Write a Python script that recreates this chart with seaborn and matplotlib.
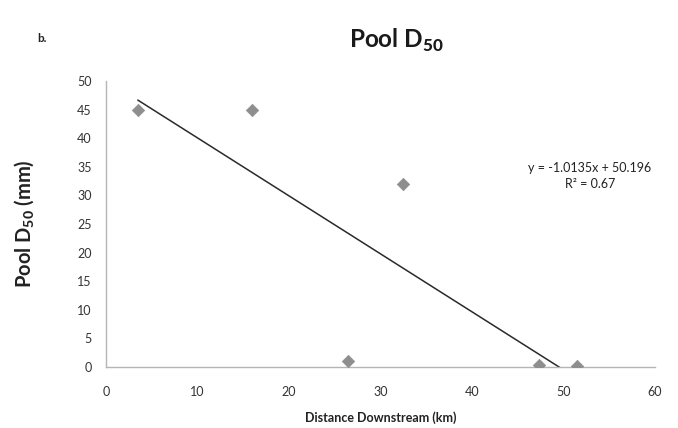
import numpy as np
import pandas as pd
import matplotlib
matplotlib.use("Agg")
import matplotlib.pyplot as plt
import seaborn as sns

# Pool median grain size vs. distance downstream
distance_km = [3.5, 16.0, 26.5, 32.5, 47.3, 51.5]
pool_d50_mm = [45.0, 45.0, 1.0, 32.0, 0.3, 0.2]

# Linear trendline coefficients
slope = -1.0135
intercept = 50.196
r_squared = 0.67

x_ticks = [0, 10, 20, 30, 40, 50, 60]
y_ticks = [0, 5, 10, 15, 20, 25, 30, 35, 40, 45, 50]

sns.set_theme(style="white")
plt.rcParams["font.family"] = ["Lato", "DejaVu Sans"]
plt.rcParams["mathtext.fontset"] = "custom"
plt.rcParams["mathtext.rm"] = "Lato"
plt.rcParams["mathtext.bf"] = "Lato:weight=black"

fig = plt.figure(figsize=(6.78, 4.28), dpi=100)
ax = fig.add_axes([0.156, 0.1425, 0.81, 0.6685])

df = pd.DataFrame({"distance": distance_km, "d50": pool_d50_mm})
sns.scatterplot(data=df, x="distance", y="d50", ax=ax, marker="D", s=40,
                color="#8e8e8e", edgecolor="#8e8e8e", linewidth=0.5, zorder=3)

# trendline across the data range, clipped by the axis floor
x_fit = np.array([min(distance_km), max(distance_km)])
trend = pd.DataFrame({"x": x_fit, "y": slope * x_fit + intercept})
sns.lineplot(data=trend, x="x", y="y", ax=ax, color="#2a2a2a", linewidth=1.1, zorder=2)

ax.set_xlim(0, 60)
ax.set_ylim(0, 50)
ax.set_xticks(x_ticks)
ax.set_yticks(y_ticks)
ax.tick_params(axis="both", labelsize=9, colors="#555555", length=4, width=0.8,
               direction="out")
ax.tick_params(axis="x", length=0, pad=14)
ax.tick_params(axis="y", pad=6)
for lbl in ax.get_xticklabels() + ax.get_yticklabels():
    lbl.set_color("#333333")

for side in ["top", "right"]:
    ax.spines[side].set_visible(False)
for side in ["left", "bottom"]:
    ax.spines[side].set_color("#b5b5b5")
    ax.spines[side].set_linewidth(1.0)

ax.set_xlabel("Distance Downstream (km)", fontsize=9, fontweight="bold",
              color="#222222", labelpad=9)
ax.set_ylabel(r"Pool D$_{\mathbf{50}}$ (mm)", fontsize=14.5, fontweight="bold",
              color="#222222", labelpad=30)

fig.text(0.585, 0.905, r"Pool D$_{\mathbf{50}}$", fontsize=17.5, fontweight="bold",
         ha="center", va="center", color="#1a1a1a")
fig.text(0.055, 0.91, "b.", fontsize=8.5, fontweight="bold", ha="left", va="center",
         color="#222222")

ax.text(52.9, 34.8, f"y = {slope}x + {intercept}", fontsize=9, ha="center",
        va="center", color="#222222")
ax.text(52.9, 32.0, f"R² = {r_squared}", fontsize=9, ha="center", va="center",
        color="#222222")

fig.savefig("out.png", dpi=100, facecolor="white")
